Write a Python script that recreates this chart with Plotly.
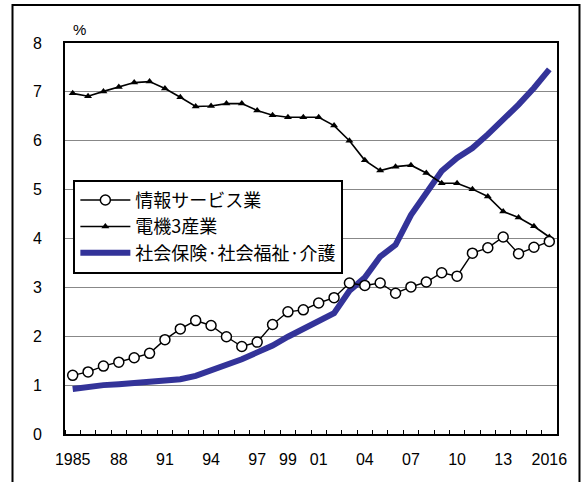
import plotly.graph_objects as go

years = list(range(1985, 2017))
info_services = [1.20, 1.27, 1.39, 1.47, 1.56, 1.65, 1.93, 2.15, 2.32, 2.22, 1.99, 1.79, 1.88, 2.24, 2.50, 2.54,
                 2.68, 2.79, 3.09, 3.04, 3.09, 2.88, 3.01, 3.11, 3.30, 3.23, 3.70, 3.81, 4.03, 3.69, 3.82, 3.94]
electric3 = [6.97, 6.91, 7.01, 7.10, 7.19, 7.21, 7.07, 6.89, 6.70, 6.71, 6.76, 6.76, 6.62, 6.52, 6.48, 6.48,
             6.48, 6.31, 6.00, 5.60, 5.39, 5.47, 5.50, 5.34, 5.13, 5.13, 5.01, 4.86, 4.55, 4.43, 4.25, 4.03]
social_care = [0.92, 0.97, 1.00, 1.02, 1.04, 1.06, 1.07, 1.12, 1.19, 1.30, 1.39, 1.53, 1.67, 1.81, 1.99, 2.15,
               2.30, 2.47, 2.93, 3.20, 3.63, 3.87, 4.48, 4.93, 5.38, 5.65, 5.85, 6.13, 6.43, 6.74, 7.08, 7.46]

tick_years = [1985, 1988, 1991, 1994, 1997, 1999, 2001, 2004, 2007, 2010, 2013, 2016]
tick_text = ["1985", "88", "91", "94", "97", "99", "01", "04", "07", "10", "13", "2016"]

names = ["情報サービス業", "電機3産業", "社会保険·社会福祉·介護"]

fig = go.Figure()
fig.add_trace(go.Scatter(
    x=years, y=social_care, name=names[2], mode="lines",
    line=dict(color="#333399", width=6), legendrank=3, legendgroup="c"))
fig.add_trace(go.Scatter(
    x=years, y=electric3, name=names[1], mode="lines+markers",
    line=dict(color="black", width=1.6),
    marker=dict(symbol="triangle-up", size=7, color="black"), legendrank=2, legendgroup="b"))
fig.add_trace(go.Scatter(
    x=years, y=info_services, name=names[0], mode="lines+markers",
    line=dict(color="black", width=1.4),
    marker=dict(symbol="circle", size=10, color="white", line=dict(color="black", width=1.5)),
    legendrank=1, legendgroup="a"))

fig.update_layout(
    width=583, height=482,
    margin=dict(l=65, r=26, t=43, b=48),
    plot_bgcolor="white", paper_bgcolor="white",
    font=dict(family="Liberation Sans, Noto Sans CJK JP", size=16, color="black"),
    showlegend=True,
    legend=dict(
        x=0.017, y=0.65, xanchor="left", yanchor="top",
        bgcolor="white", bordercolor="black", borderwidth=2,
        font=dict(family="Noto Sans CJK JP", size=18, color="black"),
        traceorder="grouped", tracegroupgap=0, itemwidth=50,
    ),
    xaxis=dict(
        range=[1984.5, 2016.5], tickmode="array", tickvals=tick_years, ticktext=tick_text,
        ticks="", showgrid=False, zeroline=False,
        showline=True, mirror=True, linecolor="black", linewidth=2,
        minor=dict(tick0=1984.5, dtick=1, ticks="inside", ticklen=4, tickcolor="black", showgrid=False),
        ticklabelstandoff=10,
        tickfont=dict(size=16),
    ),
    yaxis=dict(
        range=[0, 8], dtick=1, showgrid=True, gridcolor="#888888", gridwidth=1,
        zeroline=False, showline=True, mirror=True, linecolor="black", linewidth=2,
        ticks="", ticklabelstandoff=18, tickfont=dict(size=16),
    ),
    shapes=[dict(type="rect", xref="paper", yref="paper",
                 x0=-0.1067, x1=1.0457, y0=-0.2, y1=1.097,
                 line=dict(color="black", width=2), fillcolor="rgba(0,0,0,0)", layer="above")],
    annotations=[dict(text="%", xref="paper", yref="paper", x=0.03, y=1.034,
                      xanchor="center", yanchor="middle", showarrow=False,
                      font=dict(size=15, family="Liberation Sans"))],
)

fig.write_html("out.html", config={"displayModeBar": False},
               post_script="document.body.style.margin='0';document.body.style.overflow='hidden';")
